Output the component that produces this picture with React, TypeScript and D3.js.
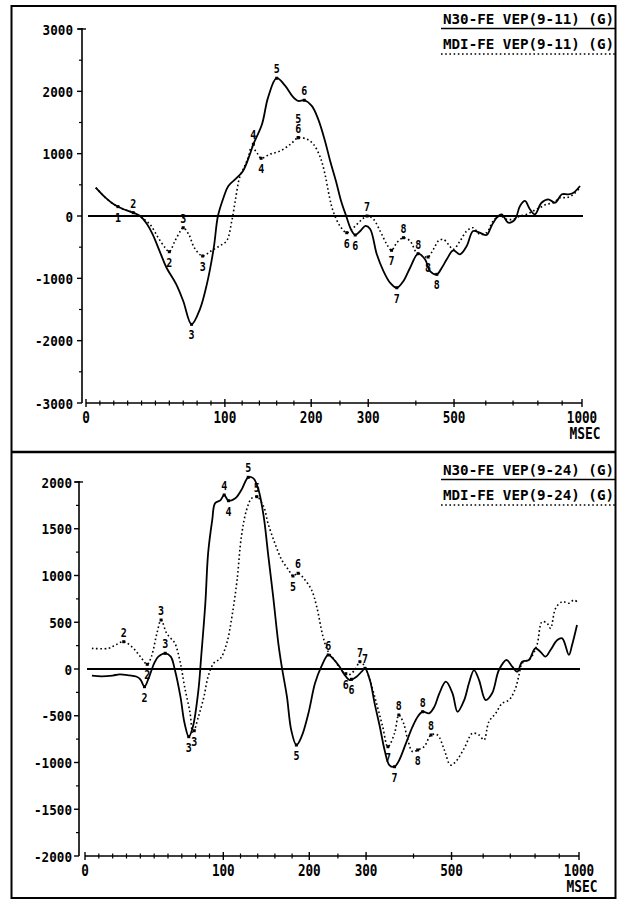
import React from 'react';
import * as d3 from 'd3';

// msec axis of the recorder is compressed after 100 ms; breakpoints of that scale
const X_BREAKS = [0, 100, 200, 250, 300, 400, 500, 600, 700, 800, 900, 1000];
const X_FRAC = [0, 0.28, 0.454, 0.512, 0.569, 0.665, 0.742, 0.806, 0.861, 0.911, 0.96, 1];

const xLabels = [0, 100, 200, 300, 500, 1000];
const xMinor = [10, 20, 30, 40, 50, 60, 70, 80, 90, 120, 140, 160, 180, 250, 400, 600, 700, 800, 900];

// ---- upper panel: VEP(9-11)
const topLegend = ['N30-FE VEP(9-11) (G)', 'MDI-FE VEP(9-11) (G)'];
const topYLabels = [3000, 2000, 1000, 0, -1000, -2000, -3000];
const topYMinor = [2500, 1500, 500, -500, -1500, -2500];

const topSolidMs = [7, 14, 20, 27, 34, 39, 44, 48, 53, 58, 65, 70, 76, 82, 87, 92, 95, 99, 104, 114,
  121, 129, 133, 143, 150, 160, 170, 178, 185, 192, 201, 212, 224, 233, 243, 252, 261, 270, 277, 286,
  295, 304, 318, 332, 346, 360, 374, 388, 406, 424, 437, 455, 468, 481, 498, 519, 540, 560, 581, 603,
  621, 640, 658, 683, 708, 728, 748, 768, 788, 815, 843, 871, 899, 932, 957, 990];
const topSolidV = [454, 294, 188, 108, 53, 0, -133, -294, -562, -830, -1097, -1364, -1738, -1497, -1097, -509, 0, 294, 482, 615,
  722, 990, 1151, 1472, 1899, 2210, 2087, 1926, 1846, 1857, 1766, 1557, 1204, 883, 562, 241, 0, -225, -305, -241,
  -160, -209, -615, -883, -1071, -1151, -1043, -830, -605, -695, -883, -936, -830, -695, -551, -615, -482, -241, -268, -305,
  -160, -27, 27, -108, -53, 160, 241, 108, 27, 213, 268, 213, 348, 348, 374, 482];

const topDotMs = [7, 14, 20, 27, 34, 40, 46, 52, 57, 60, 64, 68, 70, 74, 78, 84, 90, 96, 102, 108,
  112, 117, 122, 127, 131, 137, 142, 152, 164, 176, 185, 195, 204, 216, 224, 232, 238, 250, 262, 274,
  286, 298, 311, 325, 339, 349, 360, 374, 388, 402, 419, 432, 446, 459, 472, 485, 498, 519, 540, 560,
  581, 603, 627, 652, 677, 701, 728, 755, 781, 808, 836, 864, 892, 924, 957, 990];
const topDotV = [454, 294, 188, 108, 53, -27, -133, -348, -509, -573, -401, -241, -188, -294, -509, -642, -562, -482, -401, -80,
  241, 615, 775, 936, 1107, 1016, 926, 990, 1043, 1151, 1257, 1231, 1151, 936, 669, 294, 80, -160, -268, -188,
  -80, 0, -53, -241, -454, -551, -428, -348, -401, -589, -642, -658, -535, -401, -374, -454, -535, -401, -241, -188,
  -294, -268, -80, 0, -53, -53, 0, 27, 80, 133, 188, 213, 294, 294, 348, 454];

// component peaks: [label, series, msec, value, side] side 1 above, 2 above (second row), -1 below
const topPeaks: [string, string, number, number, number][] = [
  ['1', 's', 23, 150, -1], ['2', 's', 34, 53, 1], ['2', 'd', 60, -573, -1], ['3', 'd', 70, -188, 1],
  ['3', 'd', 84, -642, -1], ['3', 's', 76, -1738, -1], ['4', 's', 133, 1151, 1], ['4', 'd', 142, 926, -1],
  ['5', 's', 160, 2210, 1], ['6', 's', 192, 1857, 1], ['5', 'd', 185, 1257, 2], ['6', 'd', 185, 1257, 1],
  ['6', 'd', 262, -268, -1], ['6', 's', 277, -305, -1], ['7', 'd', 298, 0, 1], ['7', 'd', 349, -551, -1],
  ['7', 's', 360, -1151, -1], ['8', 'd', 374, -348, 1], ['8', 's', 406, -605, 1], ['8', 'd', 432, -658, -1],
  ['8', 's', 455, -936, -1],
];

// ---- lower panel: VEP(9-24)
const botLegend = ['N30-FE VEP(9-24) (G)', 'MDI-FE VEP(9-24) (G)'];
const botYLabels = [2000, 1500, 1000, 500, 0, -500, -1000, -1500, -2000];
const botYMinor = [1750, 1250, 750, 250, -250, -750, -1250, -1750];

const botSolidMs = [5, 12, 20, 25, 32, 37, 40, 43, 46, 50, 53, 58, 62, 65, 69, 72, 75, 78, 82, 84,
  87, 89, 92, 94, 98, 101, 106, 114, 121, 129, 135, 141, 147, 152, 158, 164, 168, 174, 179, 185,
  191, 199, 210, 221, 233, 241, 253, 262, 271, 283, 292, 298, 308, 318, 329, 339, 349, 360, 370, 384,
  398, 411, 424, 441, 455, 468, 485, 503, 519, 540, 555, 571, 587, 609, 633, 658, 686, 708, 728, 748,
  775, 801, 822, 843, 864, 892, 915, 949, 965, 990];
const botSolidV = [-70, -78, -70, -58, -68, -80, -110, -189, -99, 61, 132, 168, 132, -11, -296, -581, -724, -617, -225, 132,
  703, 1237, 1594, 1772, 1807, 1861, 1800, 1826, 1914, 2050, 2039, 1914, 1629, 1237, 773, 275, 25, -296, -652, -813,
  -724, -474, -153, 25, 150, 114, 25, -64, -118, -82, -29, 7, -118, -367, -617, -866, -1027, -1045, -973, -795,
  -617, -510, -457, -474, -403, -260, -136, -260, -457, -332, -153, -11, -118, -332, -260, -11, 96, 25, -29, 78,
  96, 221, 185, 132, 203, 310, 328, 150, 257, 471];

const botDotMs = [5, 17, 22, 28, 35, 40, 45, 48, 52, 55, 59, 62, 65, 69, 72, 76, 78, 82, 86, 89,
  93, 98, 104, 110, 116, 121, 127, 133, 139, 147, 152, 160, 168, 176, 181, 187, 195, 204, 213, 224,
  233, 244, 256, 268, 280, 289, 298, 308, 322, 335, 346, 360, 369, 379, 388, 398, 411, 428, 446, 463,
  481, 497, 513, 540, 566, 587, 603, 621, 646, 670, 695, 721, 735, 748, 781, 808, 829, 850, 864, 885,
  915, 949, 974, 990];
const botDotV = [221, 221, 257, 292, 221, 132, 50, 132, 382, 524, 382, 328, 275, 61, -189, -474, -688, -510, -296, -82,
  61, 114, 275, 559, 952, 1415, 1700, 1826, 1843, 1736, 1558, 1344, 1166, 1059, 995, 1024, 952, 845, 666, 345,
  185, 96, -11, -64, -11, 78, 25, -118, -367, -617, -831, -688, -492, -581, -759, -884, -866, -831, -706, -706,
  -866, -1027, -991, -848, -688, -706, -759, -564, -474, -367, -332, -206, -64, 61, 114, 257, 506, 489, 435, 649,
  720, 703, 738, 720];

const botPeaks: [string, string, number, number, number][] = [
  ['2', 'd', 28, 292, 1], ['2', 'd', 45, 50, -1], ['2', 's', 43, -189, -1], ['3', 'd', 55, 524, 1],
  ['3', 's', 58, 168, 1], ['3', 's', 75, -724, -1], ['3', 'd', 79, -660, -1], ['4', 's', 101, 1861, 1],
  ['4', 's', 106, 1800, -1], ['5', 's', 129, 2050, 1], ['5', 'd', 139, 1843, 1], ['5', 'd', 181, 995, -1],
  ['6', 'd', 187, 1024, 1], ['5', 's', 185, -813, -1], ['6', 's', 233, 150, 1], ['6', 'd', 264, -50, -1],
  ['6', 's', 274, -110, -1], ['7', 'd', 289, 78, 1], ['7', 's', 298, 7, 1], ['7', 'd', 346, -831, -1],
  ['7', 's', 360, -1045, -1], ['8', 'd', 369, -492, 1], ['8', 's', 424, -457, 1], ['8', 'd', 446, -706, 1],
  ['8', 'd', 411, -866, -1],
];

const FONT = '"DejaVu Sans Mono", monospace';
const DOTS = '1.6 2.6';

const Panel = ({ cfg }: { cfg: any }) => {
  const x = d3.scaleLinear()
    .domain(X_BREAKS)
    .range(X_FRAC.map(f => cfg.x0 + f * (cfg.x1 - cfg.x0)));
  const y = d3.scaleLinear()
    .domain([cfg.yLabels[cfg.yLabels.length - 1], cfg.yLabels[0]])
    .range([cfg.yBottom, cfg.yTop]);

  const mkLine = (ms: number[]) => d3.line<number>()
    .x((d, i) => x(ms[i]))
    .y(d => y(d))
    .curve(d3.curveCatmullRom.alpha(0.5));

  const axisY = cfg.yBottom;
  const legX0 = 441, legX1 = 615;

  return (
    <g>
      {/* y axis */}
      <line x1={cfg.yAxisX} x2={cfg.yAxisX} y1={y(cfg.yLabels[0]) - 1} y2={axisY} stroke="#000" strokeWidth={1.6} />
      <line x1={cfg.yAxisX - 4} x2={cfg.yAxisX + 4} y1={y(cfg.yLabels[0])} y2={y(cfg.yLabels[0])} stroke="#000" strokeWidth={1.4} />
      {cfg.yLabels.map((v: number) => (
        <g key={'yl' + v}>
          <line x1={cfg.yAxisX - 5} x2={cfg.yAxisX} y1={y(v)} y2={y(v)} stroke="#000" strokeWidth={1.4} />
          <text x={cfg.yLabelX} y={y(v) + 5.5} textAnchor="end" fontFamily={FONT} fontWeight="bold" fontSize={14}
            textLength={String(v).length * 7.6} lengthAdjust="spacingAndGlyphs">{v}</text>
        </g>
      ))}
      {cfg.yMinor.map((v: number) => (
        <line key={'ym' + v} x1={cfg.yAxisX - 3} x2={cfg.yAxisX} y1={y(v)} y2={y(v)} stroke="#000" strokeWidth={1.2} />
      ))}

      {/* x axis */}
      <line x1={cfg.x0} x2={cfg.x1} y1={axisY} y2={axisY} stroke="#000" strokeWidth={1.6} />
      {xLabels.map(t => (
        <g key={'xl' + t}>
          <line x1={x(t)} x2={x(t)} y1={axisY - 4} y2={axisY + 4} stroke="#000" strokeWidth={1.4} />
          <text x={x(t)} y={axisY + 20} textAnchor="middle" fontFamily={FONT} fontWeight="bold" fontSize={15}
            textLength={String(t).length * 7.6} lengthAdjust="spacingAndGlyphs">{t}</text>
        </g>
      ))}
      {xMinor.map(t => (
        <line key={'xm' + t} x1={x(t)} x2={x(t)} y1={axisY - 2.5} y2={axisY + 2.5} stroke="#000" strokeWidth={1.2} />
      ))}
      <text x={x(1000) + 3} y={axisY + 36} textAnchor="middle" fontFamily={FONT} fontWeight="bold" fontSize={15}
        textLength={31} lengthAdjust="spacingAndGlyphs">MSEC</text>

      {/* zero line */}
      <line x1={cfg.x0 + 2} x2={cfg.x1 + 1} y1={y(0)} y2={y(0)} stroke="#000" strokeWidth={1.8} />

      {/* traces */}
      <path d={mkLine(cfg.dotMs)(cfg.dotV) || ''} fill="none" stroke="#000" strokeWidth={1.6} strokeDasharray={DOTS} />
      <path d={mkLine(cfg.solidMs)(cfg.solidV) || ''} fill="none" stroke="#000" strokeWidth={1.8} />

      {/* component markers */}
      {cfg.peaks.map(([lab, s, t, v, side]: [string, string, number, number, number], i: number) => {
        const px = x(t), py = y(v);
        const ty = side === 2 ? py - 15 : side === 1 ? py - 5 : py + 15;
        return (
          <g key={'pk' + i}>
            <rect x={px - 1.5} y={py - 1.5} width={3} height={3} fill="#000" />
            <text x={px} y={ty} textAnchor="middle" fontFamily={FONT} fontWeight="bold" fontSize={13}
              textLength={6} lengthAdjust="spacingAndGlyphs">{lab}</text>
          </g>
        );
      })}

      {/* legend */}
      <text x={legX0 + 2} y={cfg.legY} fontFamily={FONT} fontWeight="bold" fontSize={14}
        textLength={171} lengthAdjust="spacingAndGlyphs">{cfg.legend[0]}</text>
      <line x1={legX0} x2={legX1} y1={cfg.legY + 4.5} y2={cfg.legY + 4.5} stroke="#000" strokeWidth={1.6} />
      <text x={legX0 + 2} y={cfg.legY + 25} fontFamily={FONT} fontWeight="bold" fontSize={14}
        textLength={171} lengthAdjust="spacingAndGlyphs">{cfg.legend[1]}</text>
      <line x1={legX0} x2={legX1} y1={cfg.legY + 30} y2={cfg.legY + 30} stroke="#000" strokeWidth={1.6} strokeDasharray={DOTS} />
    </g>
  );
};

export default function App() {
  const top = {
    x0: 86, x1: 582, yTop: 29, yBottom: 403, yAxisX: 82, yLabelX: 73, legY: 24,
    yLabels: topYLabels, yMinor: topYMinor, legend: topLegend,
    solidMs: topSolidMs, solidV: topSolidV, dotMs: topDotMs, dotV: topDotV, peaks: topPeaks,
  };
  const bottom = {
    x0: 85, x1: 579, yTop: 482, yBottom: 856, yAxisX: 79, yLabelX: 72, legY: 475,
    yLabels: botYLabels, yMinor: botYMinor, legend: botLegend,
    solidMs: botSolidMs, solidV: botSolidV, dotMs: botDotMs, dotV: botDotV, peaks: botPeaks,
  };
  return (
    <svg width={621} height={902} style={{ position: 'absolute', left: 0, top: 0, background: '#fff' }}>
      <rect x={0} y={0} width={621} height={902} fill="#fff" />
      <rect x={11.5} y={6} width={604} height={892} fill="none" stroke="#000" strokeWidth={2} />
      <line x1={11.5} x2={615.5} y1={452} y2={452} stroke="#000" strokeWidth={2.5} />
      <Panel cfg={top} />
      <Panel cfg={bottom} />
    </svg>
  );
}
